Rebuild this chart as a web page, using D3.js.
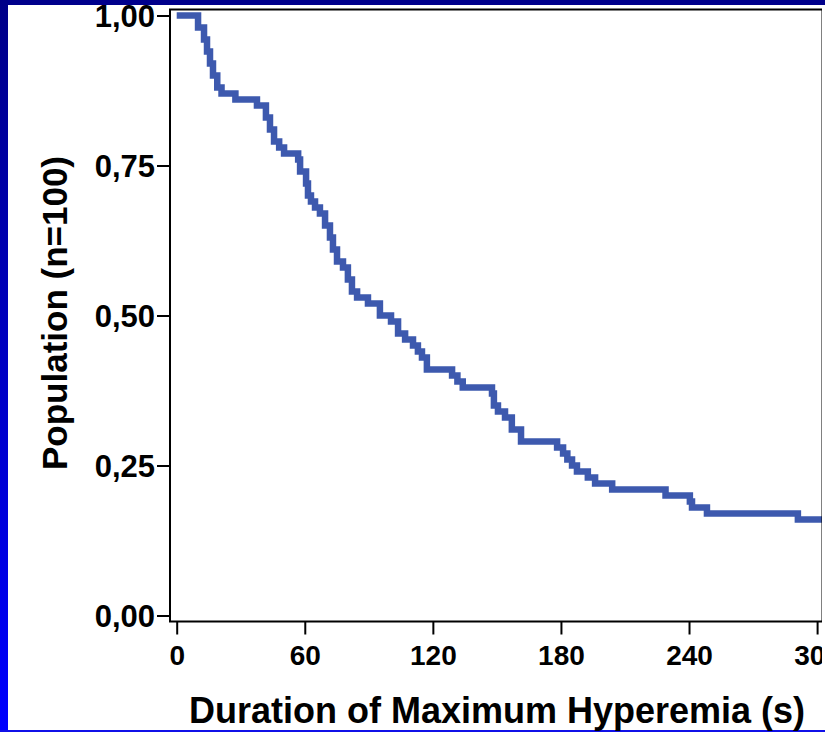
<!DOCTYPE html>
<html>
<head>
<meta charset="utf-8">
<script src="https://cdn.jsdelivr.net/npm/d3@7"></script>
<style>
  body { margin: 0; background: #fff; }
  svg { display: block; font-family: Arial, "Liberation Sans", sans-serif; font-weight: bold; }
</style>
</head>
<body>
<svg id="chart" width="825" height="732"></svg>
<script>
// step points of the survival curve (time in s, fraction still hyperemic)
const times = [0, 10, 12.8, 14.2, 15.6, 17, 19, 21, 27.5, 37.6, 41.8, 43.7, 45.6, 48, 50.3,
  56.9, 57.8, 60.6, 61.5, 62.9, 64.8, 67.1, 69.5, 71.8, 73.2, 75.1, 77.9, 80.2, 82.1, 84.5,
  89.6, 95.2, 100.4, 103.7, 107, 110.7, 113, 114.9, 117.2, 129, 131.5, 134, 147.7, 148.6, 150.5,
  153.8, 157, 161.3, 178.2, 181, 183, 185.2, 187.5, 192.6, 196, 204, 229, 240.4, 241.4, 248.4, 291];
const survival = [1.00, 0.98, 0.96, 0.94, 0.92, 0.90, 0.88, 0.87, 0.86, 0.85, 0.83, 0.81, 0.79, 0.78, 0.77,
  0.76, 0.74, 0.72, 0.70, 0.69, 0.68, 0.67, 0.65, 0.63, 0.61, 0.59, 0.58, 0.56, 0.54, 0.53,
  0.52, 0.50, 0.49, 0.47, 0.46, 0.45, 0.44, 0.43, 0.41, 0.40, 0.39, 0.38, 0.37, 0.35, 0.34,
  0.33, 0.31, 0.29, 0.28, 0.27, 0.26, 0.25, 0.24, 0.23, 0.22, 0.21, 0.20, 0.19, 0.18, 0.17, 0.16];
const endTime = 302.5;

const xTicks = [0, 60, 120, 180, 240, 300];
const yTicks = [0, 0.25, 0.5, 0.75, 1];
const xTitle = "Duration of Maximum Hyperemia (s)";
const yTitle = "Population (n=100)";

const font = 'Arial, "Liberation Sans", sans-serif';
const svg = d3.select("#chart");

// slide frame
const defs = svg.append("defs");
const grad = defs.append("linearGradient").attr("id", "side")
  .attr("x1", 0).attr("y1", 0).attr("x2", 0).attr("y2", 1);
grad.append("stop").attr("offset", "0%").attr("stop-color", "#000088");
grad.append("stop").attr("offset", "100%").attr("stop-color", "#0000ff");
defs.append("clipPath").attr("id", "clip").append("rect")
  .attr("x", 0).attr("y", 0).attr("width", 822).attr("height", 732);

svg.append("rect").attr("x", 0).attr("y", 0).attr("width", 825).attr("height", 5).attr("fill", "#00008c");
svg.append("rect").attr("x", 0).attr("y", 0).attr("width", 8).attr("height", 732).attr("fill", "url(#side)");
svg.append("rect").attr("x", 0).attr("y", 730).attr("width", 825).attr("height", 2).attr("fill", "#1010e8");

const x = d3.scaleLinear().domain([0, 300]).range([176.7, 817.1]);
const y = d3.scaleLinear().domain([0, 1]).range([615.5, 15.5]);

const boxLeft = 170, boxRight = 822.5, boxTop = 9.5, boxBottom = 621.5;
const fmt = d3.formatLocale({ decimal: ",", thousands: ".", grouping: [3], currency: ["", ""] }).format(".2f");

const g = svg.append("g").attr("clip-path", "url(#clip)");

// curve
const pts = times.map((t, i) => [t, survival[i]]);
pts.push([endTime, survival[survival.length - 1]]);
g.append("path")
  .datum(pts)
  .attr("fill", "none")
  .attr("stroke", "#3d59ae")
  .attr("stroke-width", 6.5)
  .attr("d", d3.line().x(d => x(d[0])).y(d => y(d[1])).curve(d3.curveStepAfter));

// box
g.append("rect")
  .attr("x", boxLeft).attr("y", boxTop)
  .attr("width", boxRight - boxLeft).attr("height", boxBottom - boxTop)
  .attr("fill", "none").attr("stroke", "#000").attr("stroke-width", 2);

// axes
const yAxis = g.append("g")
  .attr("transform", "translate(" + boxLeft + ",0)")
  .call(d3.axisLeft(y).tickValues(yTicks).tickFormat(fmt).tickSize(13).tickPadding(2))
  .attr("font-family", font).attr("font-weight", "bold");
yAxis.select(".domain").remove();
yAxis.selectAll("line").attr("stroke", "#000").attr("stroke-width", 2);
yAxis.selectAll("text").attr("fill", "#000").style("font-size", "31px").attr("dy", "0.36em");

const xAxis = g.append("g")
  .attr("transform", "translate(0," + boxBottom + ")")
  .call(d3.axisBottom(x).tickValues(xTicks).tickSize(13).tickPadding(11))
  .attr("font-family", font).attr("font-weight", "bold");
xAxis.select(".domain").remove();
xAxis.selectAll("line").attr("stroke", "#000").attr("stroke-width", 2);
xAxis.selectAll("text").attr("fill", "#000").style("font-size", "28px");

// titles
g.append("text")
  .attr("x", 497).attr("y", 723)
  .attr("text-anchor", "middle")
  .style("font-size", "36px")
  .text(xTitle);

g.append("text")
  .attr("transform", "translate(67,313) rotate(-90)")
  .attr("text-anchor", "middle")
  .style("font-size", "35px")
  .text(yTitle);
</script>
</body>
</html>
